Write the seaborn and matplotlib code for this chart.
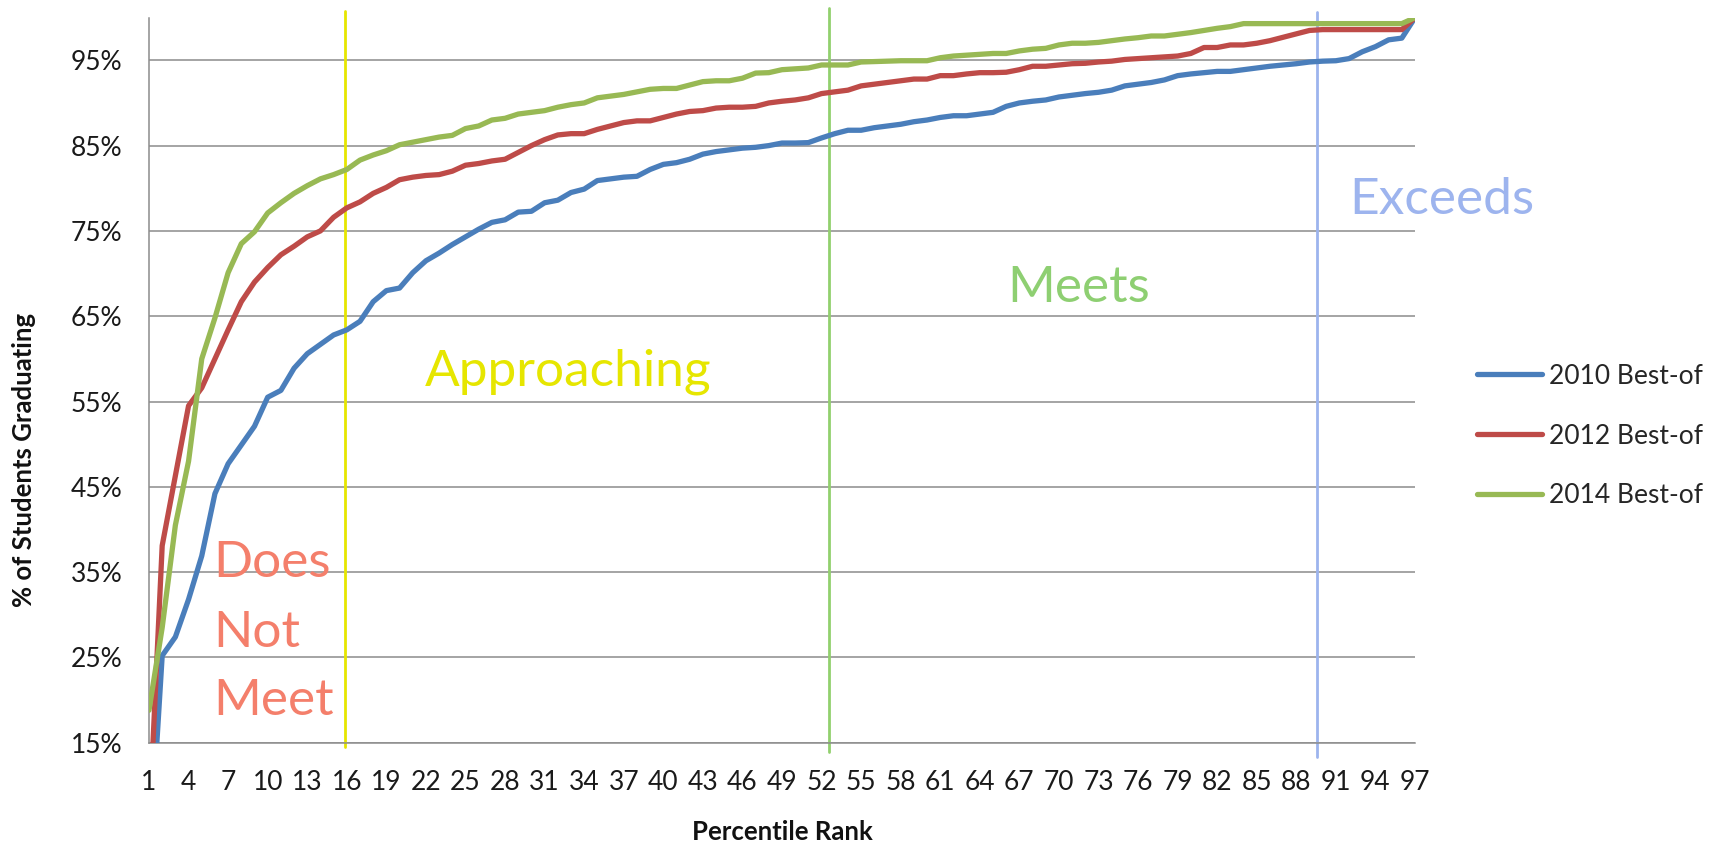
import matplotlib
matplotlib.use("Agg")
import matplotlib.pyplot as plt
from matplotlib.lines import Line2D
from matplotlib.ticker import FuncFormatter
import pandas as pd
import seaborn as sns

# ---- data -------------------------------------------------------------
percentile_rank = list(range(1, 98))

best_of_2010 = [
    0.0, 25.2, 27.4, 31.8, 36.9, 44.2, 47.7, 49.9, 52.1, 55.5,
    56.3, 58.9, 60.6, 61.7, 62.8, 63.4, 64.4, 66.7, 68.0, 68.3,
    70.1, 71.5, 72.4, 73.4, 74.3, 75.2, 76.0, 76.3, 77.2, 77.3,
    78.3, 78.6, 79.5, 79.9, 80.9, 81.1, 81.3, 81.4, 82.2, 82.8,
    83.0, 83.4, 84.0, 84.3, 84.5, 84.7, 84.8, 85.0, 85.3, 85.3,
    85.35, 85.9, 86.4, 86.8, 86.8, 87.1, 87.3, 87.5, 87.8, 88.0,
    88.3, 88.5, 88.5, 88.7, 88.9, 89.6, 90.0, 90.2, 90.35, 90.7,
    90.9, 91.1, 91.25, 91.5, 92.0, 92.2, 92.4, 92.7, 93.2, 93.4,
    93.55, 93.7, 93.7, 93.9, 94.1, 94.3, 94.45, 94.6, 94.8, 94.9,
    94.95, 95.2, 96.0, 96.6, 97.4, 97.6, 100.0,
]

best_of_2012 = [
    5.0, 38.1, 46.3, 54.5, 56.6, 60.0, 63.4, 66.7, 69.0, 70.7,
    72.2, 73.2, 74.3, 75.0, 76.6, 77.7, 78.4, 79.4, 80.1, 81.0,
    81.3, 81.5, 81.6, 82.0, 82.7, 82.9, 83.2, 83.4, 84.2, 85.0,
    85.7, 86.25, 86.4, 86.4, 86.9, 87.3, 87.7, 87.9, 87.9, 88.3,
    88.7, 89.0, 89.1, 89.4, 89.5, 89.5, 89.6, 90.0, 90.2, 90.35,
    90.6, 91.1, 91.3, 91.5, 92.0, 92.2, 92.4, 92.6, 92.8, 92.8,
    93.2, 93.2, 93.4, 93.55, 93.55, 93.6, 93.9, 94.3, 94.3, 94.45,
    94.6, 94.65, 94.8, 94.9, 95.1, 95.2, 95.3, 95.4, 95.5, 95.8,
    96.5, 96.5, 96.8, 96.8, 97.0, 97.3, 97.7, 98.1, 98.5, 98.6,
    98.6, 98.6, 98.6, 98.6, 98.6, 98.6, 100.0,
]

best_of_2014 = [
    18.8, 28.5, 40.5, 48.0, 60.0, 64.8, 70.1, 73.5, 74.9, 77.1,
    78.3, 79.4, 80.3, 81.1, 81.6, 82.2, 83.3, 83.9, 84.4, 85.1,
    85.4, 85.7, 86.0, 86.2, 87.0, 87.3, 88.0, 88.2, 88.7, 88.9,
    89.1, 89.5, 89.8, 90.0, 90.6, 90.8, 91.0, 91.3, 91.6, 91.7,
    91.7, 92.1, 92.5, 92.6, 92.6, 92.9, 93.5, 93.55, 93.9, 94.0,
    94.1, 94.45, 94.45, 94.45, 94.8, 94.85, 94.9, 94.95, 94.95, 94.95,
    95.3, 95.5, 95.6, 95.7, 95.8, 95.8, 96.1, 96.3, 96.4, 96.8,
    97.0, 97.0, 97.1, 97.3, 97.5, 97.65, 97.85, 97.85, 98.05, 98.25,
    98.5, 98.75, 98.95, 99.3, 99.3, 99.3, 99.3, 99.3, 99.3, 99.3,
    99.3, 99.3, 99.3, 99.3, 99.3, 99.3, 100.0,
]

series_names = ["2010 Best-of", "2012 Best-of", "2014 Best-of"]
series_values = [best_of_2010, best_of_2012, best_of_2014]
series_colors = ["#4A7EBB", "#BE4B48", "#98B954"]

y_ticks = [15, 25, 35, 45, 55, 65, 75, 85, 95]
x_label_step = 3

# performance bands: boundary ranks and the label drawn in each band
band_edges = [15.83, 52.56, 89.56]
band_edge_colors = ["#E6E600", "#92D06E", "#9DB4EE"]
band_labels = ["Does\nNot\nMeet", "Approaching", "Meets", "Exceeds"]
band_label_colors = ["#F47F6B", "#E6E600", "#8ECF72", "#9DB4EE"]

# ---- figure -----------------------------------------------------------
sns.set_style("white")
plt.rcParams["font.family"] = ["Lato", "DejaVu Sans"]

W, H = 1724, 844
fig = plt.figure(figsize=(W / 100, H / 100), dpi=100)
ax = fig.add_axes([149 / W, 1 - 742.7 / H, (1415 - 149) / W, (742.7 - 17.65) / H])

df = pd.DataFrame({
    "rank": percentile_rank * len(series_names),
    "value": [v for vals in series_values for v in vals],
    "series": [n for n, vals in zip(series_names, series_values) for _ in vals],
})
palette = dict(zip(series_names, series_colors))

sns.lineplot(data=df, x="rank", y="value", hue="series", palette=palette,
             linewidth=3.8, legend=False, ax=ax, errorbar=None,
             solid_capstyle="round", solid_joinstyle="round", zorder=3)

ax.set_xlim(1, 97)
ax.set_ylim(15, 100)

grid_grey = "#8C8C8C"
ax.set_yticks(y_ticks)
ax.yaxis.set_major_formatter(FuncFormatter(lambda v, _: f"{v:.0f}%"))
ax.set_xticks(percentile_rank)
ax.xaxis.set_major_formatter(
    FuncFormatter(lambda v, _: f"{int(round(v))}" if (int(round(v)) - 1) % x_label_step == 0 else ""))

ax.grid(False)
ax.yaxis.grid(True, color=grid_grey, linewidth=1.1, zorder=0)
for side in ("top", "right"):
    ax.spines[side].set_visible(False)
for side in ("left", "bottom"):
    ax.spines[side].set_color(grid_grey)
    ax.spines[side].set_linewidth(1.1)

ax.tick_params(axis="x", direction="out", length=7, width=1, color=grid_grey,
               labelsize=19, pad=13, labelcolor="#1A1A1A")
ax.tick_params(axis="y", direction="out", length=7, width=1, color=grid_grey,
               labelsize=19, pad=12, labelcolor="#1A1A1A")
ax.set_xlabel("")
ax.set_ylabel("")

# band boundaries, running slightly past the plot area
edge_spans = [(-0.006, 1.009), (-0.013, 1.013), (-0.02, 1.008)]
for x, c, (y0, y1) in zip(band_edges, band_edge_colors, edge_spans):
    ax.axvline(x, ymin=y0, ymax=y1, color=c, linewidth=2.0, clip_on=False, zorder=2)

# band names
dnm_lines = band_labels[0].split("\n")
dnm_baselines = [34.4, 26.2, 18.25]
for word, yb in zip(dnm_lines, dnm_baselines):
    ax.text(5.85, yb, word, color=band_label_colors[0],
            fontsize=37, ha="left", va="baseline", zorder=4)
band_label_pos = [(21.9, 56.9), (66.1, 66.7), (92.0, 77.0)]
for (x, y), lab, c in zip(band_label_pos, band_labels[1:], band_label_colors[1:]):
    ax.text(x, y, lab, color=c, fontsize=37, ha="left", va="baseline", zorder=4)

# axis titles
fig.text(24 / W, 1 - 460 / H, "% of Students Graduating", rotation=90,
         ha="center", va="center", fontsize=18.5, fontweight="bold", color="#111111")
fig.text(782 / W, 1 - 832 / H, "Percentile Rank", ha="center", va="center",
         fontsize=18.5, fontweight="bold", color="#111111")

# legend
handles = [Line2D([0], [0], color=c, linewidth=3.8, solid_capstyle="round")
           for c in series_colors]
fig.legend(handles, series_names, loc="center left",
           bbox_to_anchor=(1477 / W, 1 - 436 / H), frameon=False, fontsize=19,
           handlelength=2.45, handletextpad=0.28, labelspacing=1.32,
           borderpad=0, borderaxespad=0)

fig.savefig("out.png", dpi=100)
